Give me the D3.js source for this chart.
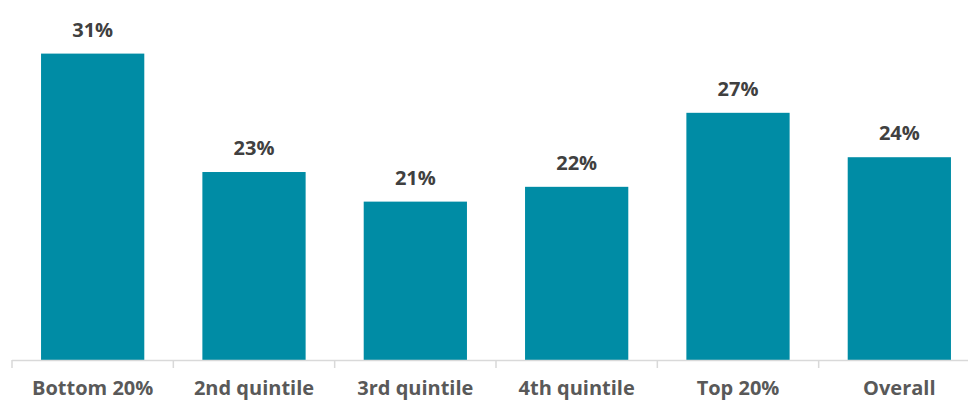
<!DOCTYPE html>
<html>
<head>
<meta charset="utf-8">
<script src="https://cdn.jsdelivr.net/npm/d3@7"></script>
<style>
  html, body { margin: 0; padding: 0; background: #fff; }
  svg { display: block; }
</style>
</head>
<body>
<svg id="chart" width="968" height="400"></svg>
<script>
// Share by income group
const categories = ["Bottom 20%", "2nd quintile", "3rd quintile", "4th quintile", "Top 20%", "Overall"];
const values = [31, 23, 21, 22, 27, 24];

const svg = d3.select("#chart");
const font = "'Open Sans', sans-serif";

const x = d3.scaleBand()
  .domain(categories)
  .range([12, 980])
  .paddingInner(0.36)
  .paddingOuter(0.18);

const y = d3.scaleLinear()
  .domain([10.3, 32])
  .range([360, 38.8]);

// bars
svg.append("g")
  .selectAll("rect")
  .data(values)
  .join("rect")
  .attr("x", (d, i) => x(categories[i]))
  .attr("width", x.bandwidth())
  .attr("y", d => y(d))
  .attr("height", d => y.range()[0] - y(d))
  .attr("fill", "#008CA5");

// value labels
svg.append("g")
  .selectAll("text")
  .data(values)
  .join("text")
  .attr("x", (d, i) => x(categories[i]) + x.bandwidth() / 2)
  .attr("y", d => y(d) - 17)
  .attr("text-anchor", "middle")
  .attr("font-family", font)
  .attr("font-weight", 700)
  .attr("font-size", 20)
  .attr("fill", "#404040")
  .text(d => d + "%");

// category axis with ticks between bands
const axis = svg.append("g");
axis.append("line")
  .attr("x1", 12).attr("x2", 968)
  .attr("y1", 360.5).attr("y2", 360.5)
  .attr("stroke", "#d9d9d9").attr("stroke-width", 1.5);

const step = x.step();
const edges = d3.range(categories.length + 1).map(i => x.range()[0] + i * step);
axis.selectAll("line.tick")
  .data(edges)
  .join("line")
  .attr("class", "tick")
  .attr("x1", d => d).attr("x2", d => d)
  .attr("y1", 360).attr("y2", 368)
  .attr("stroke", "#d9d9d9").attr("stroke-width", 1.5);

axis.selectAll("text")
  .data(categories)
  .join("text")
  .attr("x", d => x(d) + x.bandwidth() / 2)
  .attr("y", 394.5)
  .attr("text-anchor", "middle")
  .attr("font-family", font)
  .attr("font-weight", 700)
  .attr("font-size", 20)
  .attr("fill", "#595959")
  .text(d => d);
</script>
</body>
</html>
